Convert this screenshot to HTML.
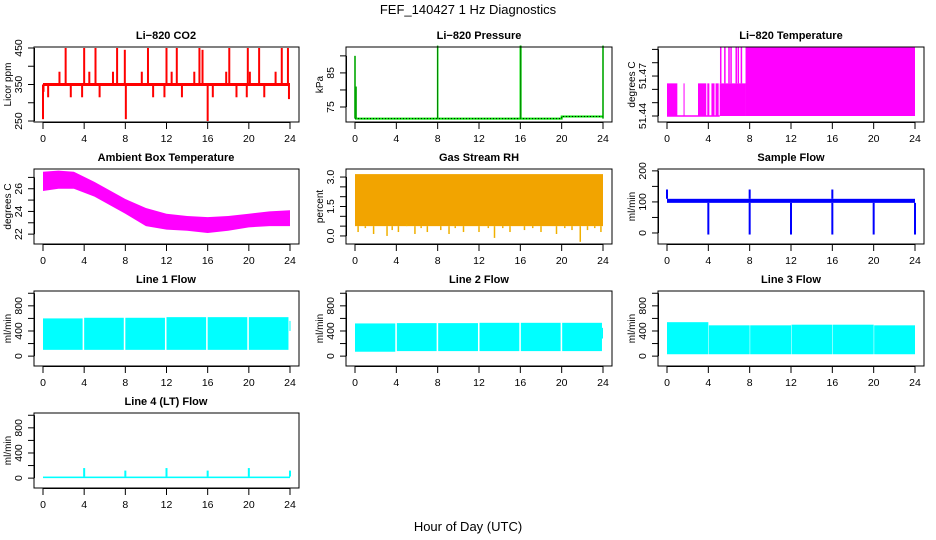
<!DOCTYPE html>
<html><head><meta charset="utf-8"><style>
body{margin:0;background:#fff}
svg{display:block;font-family:"Liberation Sans",sans-serif}
.t{font-size:11px;font-weight:bold;text-anchor:middle}
.yl{font-size:10px;text-anchor:middle}
.tk{font-size:10.5px;text-anchor:middle}
</style></head><body>
<svg id="c" width="936" height="540" viewBox="0 0 936 540">
<text x="468" y="14" font-size="13" text-anchor="middle">FEF_140427  1 Hz Diagnostics</text>
<text x="468" y="531" font-size="13" text-anchor="middle">Hour of Day (UTC)</text>
<text class="t" x="166" y="39">Li−820 CO2</text>
<text class="t" x="479" y="39">Li−820 Pressure</text>
<text class="t" x="791" y="39">Li−820 Temperature</text>
<text class="t" x="166" y="161">Ambient Box Temperature</text>
<text class="t" x="479" y="161">Gas Stream RH</text>
<text class="t" x="791" y="161">Sample Flow</text>
<text class="t" x="166" y="283">Line 1 Flow</text>
<text class="t" x="479" y="283">Line 2 Flow</text>
<text class="t" x="791" y="283">Line 3 Flow</text>
<text class="t" x="166" y="405">Line 4 (LT) Flow</text>
<text class="yl" transform="translate(11,84.5) rotate(-90)">Licor ppm</text>
<text class="yl" transform="translate(323,84.5) rotate(-90)">kPa</text>
<text class="yl" transform="translate(635,84.5) rotate(-90)">degrees C</text>
<text class="yl" transform="translate(11,206.5) rotate(-90)">degrees C</text>
<text class="yl" transform="translate(323,206.5) rotate(-90)">percent</text>
<text class="yl" transform="translate(635,206.5) rotate(-90)">ml/min</text>
<text class="yl" transform="translate(11,328.5) rotate(-90)">ml/min</text>
<text class="yl" transform="translate(323,328.5) rotate(-90)">ml/min</text>
<text class="yl" transform="translate(635,328.5) rotate(-90)">ml/min</text>
<text class="yl" transform="translate(11,450.5) rotate(-90)">ml/min</text>
</svg>
<script>
// ---- data ----
const xTicks=[0,4,8,12,16,20,24];
const co2Base=350;
const co2SpikeT=[0,0.05,2.2,4.0,5.1,7.2,7.95,8.05,10.2,12.0,13.0,15.2,15.5,16.0,18.1,19.9,21.0,23.2,23.8,1.6,4.5,6.8,9.6,12.5,14.7,17.8,20.1,22.6,0.5,2.7,3.8,5.5,10.7,11.8,13.5,16.5,18.8,19.8,21.5,23.9];
const co2SpikeV=[255,330,450,450,450,450,445,255,450,450,450,450,445,250,450,450,450,450,450,385,385,385,385,385,385,385,385,385,315,315,315,315,315,315,315,315,315,315,315,310];
const presT=[0,0.1,8,16,16.05,24];
const presV=[90,81,93,93,93,93];
const presBaseT=[0,20,20,24];
const presBaseV=[71.6,71.6,72.2,72.2];
const ltSegStart=[0,1.6,3.0,3.9,4.3,4.7,5.1,7.6];
const ltSegEnd=[1.0,1.7,3.8,4.1,4.6,5.0,7.6,24];
const ltSegLo=[51.44,51.44,51.44,51.44,51.44,51.44,51.44,51.44];
const ltSegHi=[51.4645,51.4645,51.4645,51.4645,51.4645,51.4645,51.4645,51.4915];
const ltHighT=[5.2,5.6,6.0,6.2,6.7,6.9,7.2];
const ambT=[0,1.5,3,5,8,10,12,14,16,18,20,22,24];
const ambTop=[27.5,27.6,27.5,26.6,25.1,24.3,23.8,23.6,23.5,23.6,23.8,24.0,24.1];
const ambBot=[25.8,26.0,26.0,25.3,23.8,22.7,22.4,22.3,22.1,22.3,22.6,22.7,22.7];
const rhTop=3.15, rhLo=0.5;
const rhDipT=[0.3,1.0,1.8,2.5,3.1,3.6,4.2,5.0,5.8,6.4,7.0,7.6,8.3,9.1,9.7,10.5,11.2,12.0,12.9,13.5,14.3,15.0,15.7,16.4,17.2,18.0,18.8,19.5,20.3,21.0,21.8,22.5,23.2,23.8];
const rhDipV=[0.2,0.4,0.1,0.5,0.0,0.3,0.2,0.6,0.1,0.4,0.2,0.5,0.3,0.1,0.4,0.2,0.5,0.2,0.4,-0.1,0.4,0.2,0.5,0.3,0.4,0.2,0.5,0.1,0.4,0.3,-0.3,0.3,0.4,0.2];
const sfLo=97, sfHi=110;
const sfDownT=[4,8,12,16,20,24];
const sfDownV=[-5,-5,-5,-5,-5,-5];
const sfUpT=[0,8,16];
const sfUpV=[140,140,140];
const l1S=[0,4.0,8.0,12.0,16.0,20.0,23.95], l1E=[3.85,7.85,11.85,15.85,19.85,23.85,24], l1Lo=[100,100,100,100,100,100,400], l1Hi=[600,610,610,620,620,620,560];
const l2S=[0,4.05,8.05,12.05,16.05,20.05,23.9], l2E=[3.9,7.9,11.9,15.9,19.9,23.9,24], l2Lo=[70,80,80,80,80,80,280], l2Hi=[520,525,525,530,530,530,450];
const l3S=[0,4.05,8.05,12.05,16.05,20.05], l3E=[4,8,12,16,20,24], l3Lo=[30,30,30,30,30,30], l3Hi=[540,490,490,500,500,490];
const l4BaseLo=0, l4BaseHi=25;
const l4SpikeT=[4,8,12,16,20,24];
const l4SpikeV=[160,120,160,120,160,120];
// ---- layout ----
const svg=document.getElementById('c');
const NS='http://www.w3.org/2000/svg';
const X0=[43,355,667], X24=[290,603,915], TOP=[47,169,291,413], H=75;
function el(tag,attrs,parent){const e=document.createElementNS(NS,tag);for(const k in attrs)e.setAttribute(k,attrs[k]);(parent||svg).appendChild(e);return e;}
function panel(name,col,row,d0,d1,ticks,labels){
  const g=el('g',{});
  
  
  const top=TOP[row],bot=top+H,l=X0[col]-9,r=X24[col]+9;
  const xs=t=>X0[col]+(X24[col]-X0[col])*t/24;
  const ys=v=>bot-(v-d0)/(d1-d0)*H;
  const plot=el('g',{},g);
  
  
  const box=el('rect',{x:l,y:top,width:r-l,height:H,fill:'none',stroke:'#000','stroke-width':1},g);
  
  
  const ax=el('g',{stroke:'#000','stroke-width':1},g);
  
  
  el('line',{x1:X0[col],x2:X24[col],y1:bot+0.5,y2:bot+0.5},ax);
  xTicks.forEach(t=>{el('line',{x1:xs(t),x2:xs(t),y1:bot,y2:bot+7},ax);
    const tx=el('text',{x:xs(t),y:bot+20,class:'tk',stroke:'none'},ax);tx.textContent=t;});
  el('line',{x1:l+0.5,x2:l+0.5,y1:ys(ticks[0]),y2:ys(ticks[ticks.length-1])},ax);
  ticks.forEach(v=>el('line',{x1:l,x2:l-6,y1:ys(v),y2:ys(v)},ax));
  labels.forEach(v=>{const tx=el('text',{class:'tk',stroke:'none',transform:`translate(${l-12},${ys(v)}) rotate(-90)`},ax);tx.textContent=v;});
  return {plot,xs,ys};
}
function vline(g,x,y1,y2,c,w){el('line',{x1:x,x2:x,y1:y1,y2:y2,stroke:c,'stroke-width':w||1.2},g);}
function band(g,xs,ys,t0,t1,lo,hi,fill){el('rect',{x:xs(t0),y:ys(hi),width:Math.max(1,xs(t1)-xs(t0)),height:Math.max(1,ys(lo)-ys(hi)),fill:fill},g);}

// CO2
let p=panel('co2',0,0,247.3,452.7,[250,300,350,400,450],[250,350,450]);
el('line',{x1:p.xs(0),x2:p.xs(24),y1:p.ys(co2Base),y2:p.ys(co2Base),stroke:'#f00','stroke-width':3},p.plot);
co2SpikeT.forEach((t,i)=>vline(p.plot,p.xs(t),p.ys(co2Base),p.ys(co2SpikeV[i]),'#f00',2));
// Pressure
p=panel('pressure',1,0,70.6,92.6,[75,80,85,90],[75,85]);
el('polyline',{points:presBaseT.map((t,i)=>p.xs(t)+','+p.ys(presBaseV[i])).join(' '),fill:'none',stroke:'#00e000','stroke-width':2},p.plot);
el('polyline',{points:presBaseT.map((t,i)=>p.xs(t)+','+p.ys(presBaseV[i])).join(' '),fill:'none',stroke:'#000','stroke-width':1,'stroke-dasharray':'1 2'},p.plot);
presT.forEach((t,i)=>{vline(p.plot,p.xs(t),p.ys(presBaseV[0]),p.ys(presV[i]),'#00e000',1.6);vline(p.plot,p.xs(t),p.ys(presBaseV[0]),p.ys(presV[i]),'#000',0.4);});
// Li-820 temp
p=panel('li820-temp',2,0,51.4355,51.4918,[51.44,51.45,51.46,51.47,51.48,51.49],[51.44,51.47]);
el('line',{x1:p.xs(0),x2:p.xs(5.1),y1:p.ys(51.44),y2:p.ys(51.44),stroke:'#f0f','stroke-width':1.5},p.plot);
ltSegStart.forEach((t,i)=>band(p.plot,p.xs,p.ys,t,ltSegEnd[i],ltSegLo[i],ltSegHi[i],'#f0f'));
ltHighT.forEach(t=>vline(p.plot,p.xs(t),p.ys(51.4645),p.ys(51.4915),'#f0f',1.5));
// Ambient
p=panel('ambient-temp',0,1,21.13,27.74,[22,23,24,25,26,27],[22,24,26]);
el('polygon',{points:ambT.map((t,i)=>p.xs(t)+','+p.ys(ambTop[i])).concat(ambT.slice().reverse().map((t,j)=>p.xs(t)+','+p.ys(ambBot[ambT.length-1-j]))).join(' '),fill:'#f0f'},p.plot);
// RH
p=panel('rh',1,1,-0.41,3.41,[0,0.5,1,1.5,2,2.5,3],['0.0','1.5','3.0']);
band(p.plot,p.xs,p.ys,0,24,rhLo,rhTop,'#f2a400');
rhDipT.forEach((t,i)=>vline(p.plot,p.xs(t),p.ys(rhLo),p.ys(rhDipV[i]),'#f0b000',1.5));
// Sample flow
p=panel('sample-flow',2,1,-35.5,206,[0,50,100,150,200],[0,100,200]);
band(p.plot,p.xs,p.ys,0,24,sfLo,sfHi,'#00f');
sfDownT.forEach((t,i)=>vline(p.plot,p.xs(t),p.ys(sfLo),p.ys(sfDownV[i]),'#00f',2));
sfUpT.forEach((t,i)=>vline(p.plot,p.xs(t),p.ys(sfHi),p.ys(sfUpV[i]),'#00f',2));
// Flow lines
const fT=[0,200,400,600,800,1000], fL=[0,400,800];
[[0,2,l1S,l1E,l1Lo,l1Hi,'line1'],[1,2,l2S,l2E,l2Lo,l2Hi,'line2'],[2,2,l3S,l3E,l3Lo,l3Hi,'line3']].forEach(a=>{
  const q=panel(a[6],a[0],a[1],-157,1036,fT,fL);
  a[2].forEach((s,i)=>band(q.plot,q.xs,q.ys,s,a[3][i],a[4][i],a[5][i],'#0ff'));
});
p=panel('line4',0,3,-157,1036,fT,fL);
band(p.plot,p.xs,p.ys,0,24,l4BaseLo,l4BaseHi,'#0ff');
l4SpikeT.forEach((t,i)=>vline(p.plot,p.xs(t),p.ys(l4BaseHi),p.ys(l4SpikeV[i]),'#0ff',2));
</script>
</body></html>
